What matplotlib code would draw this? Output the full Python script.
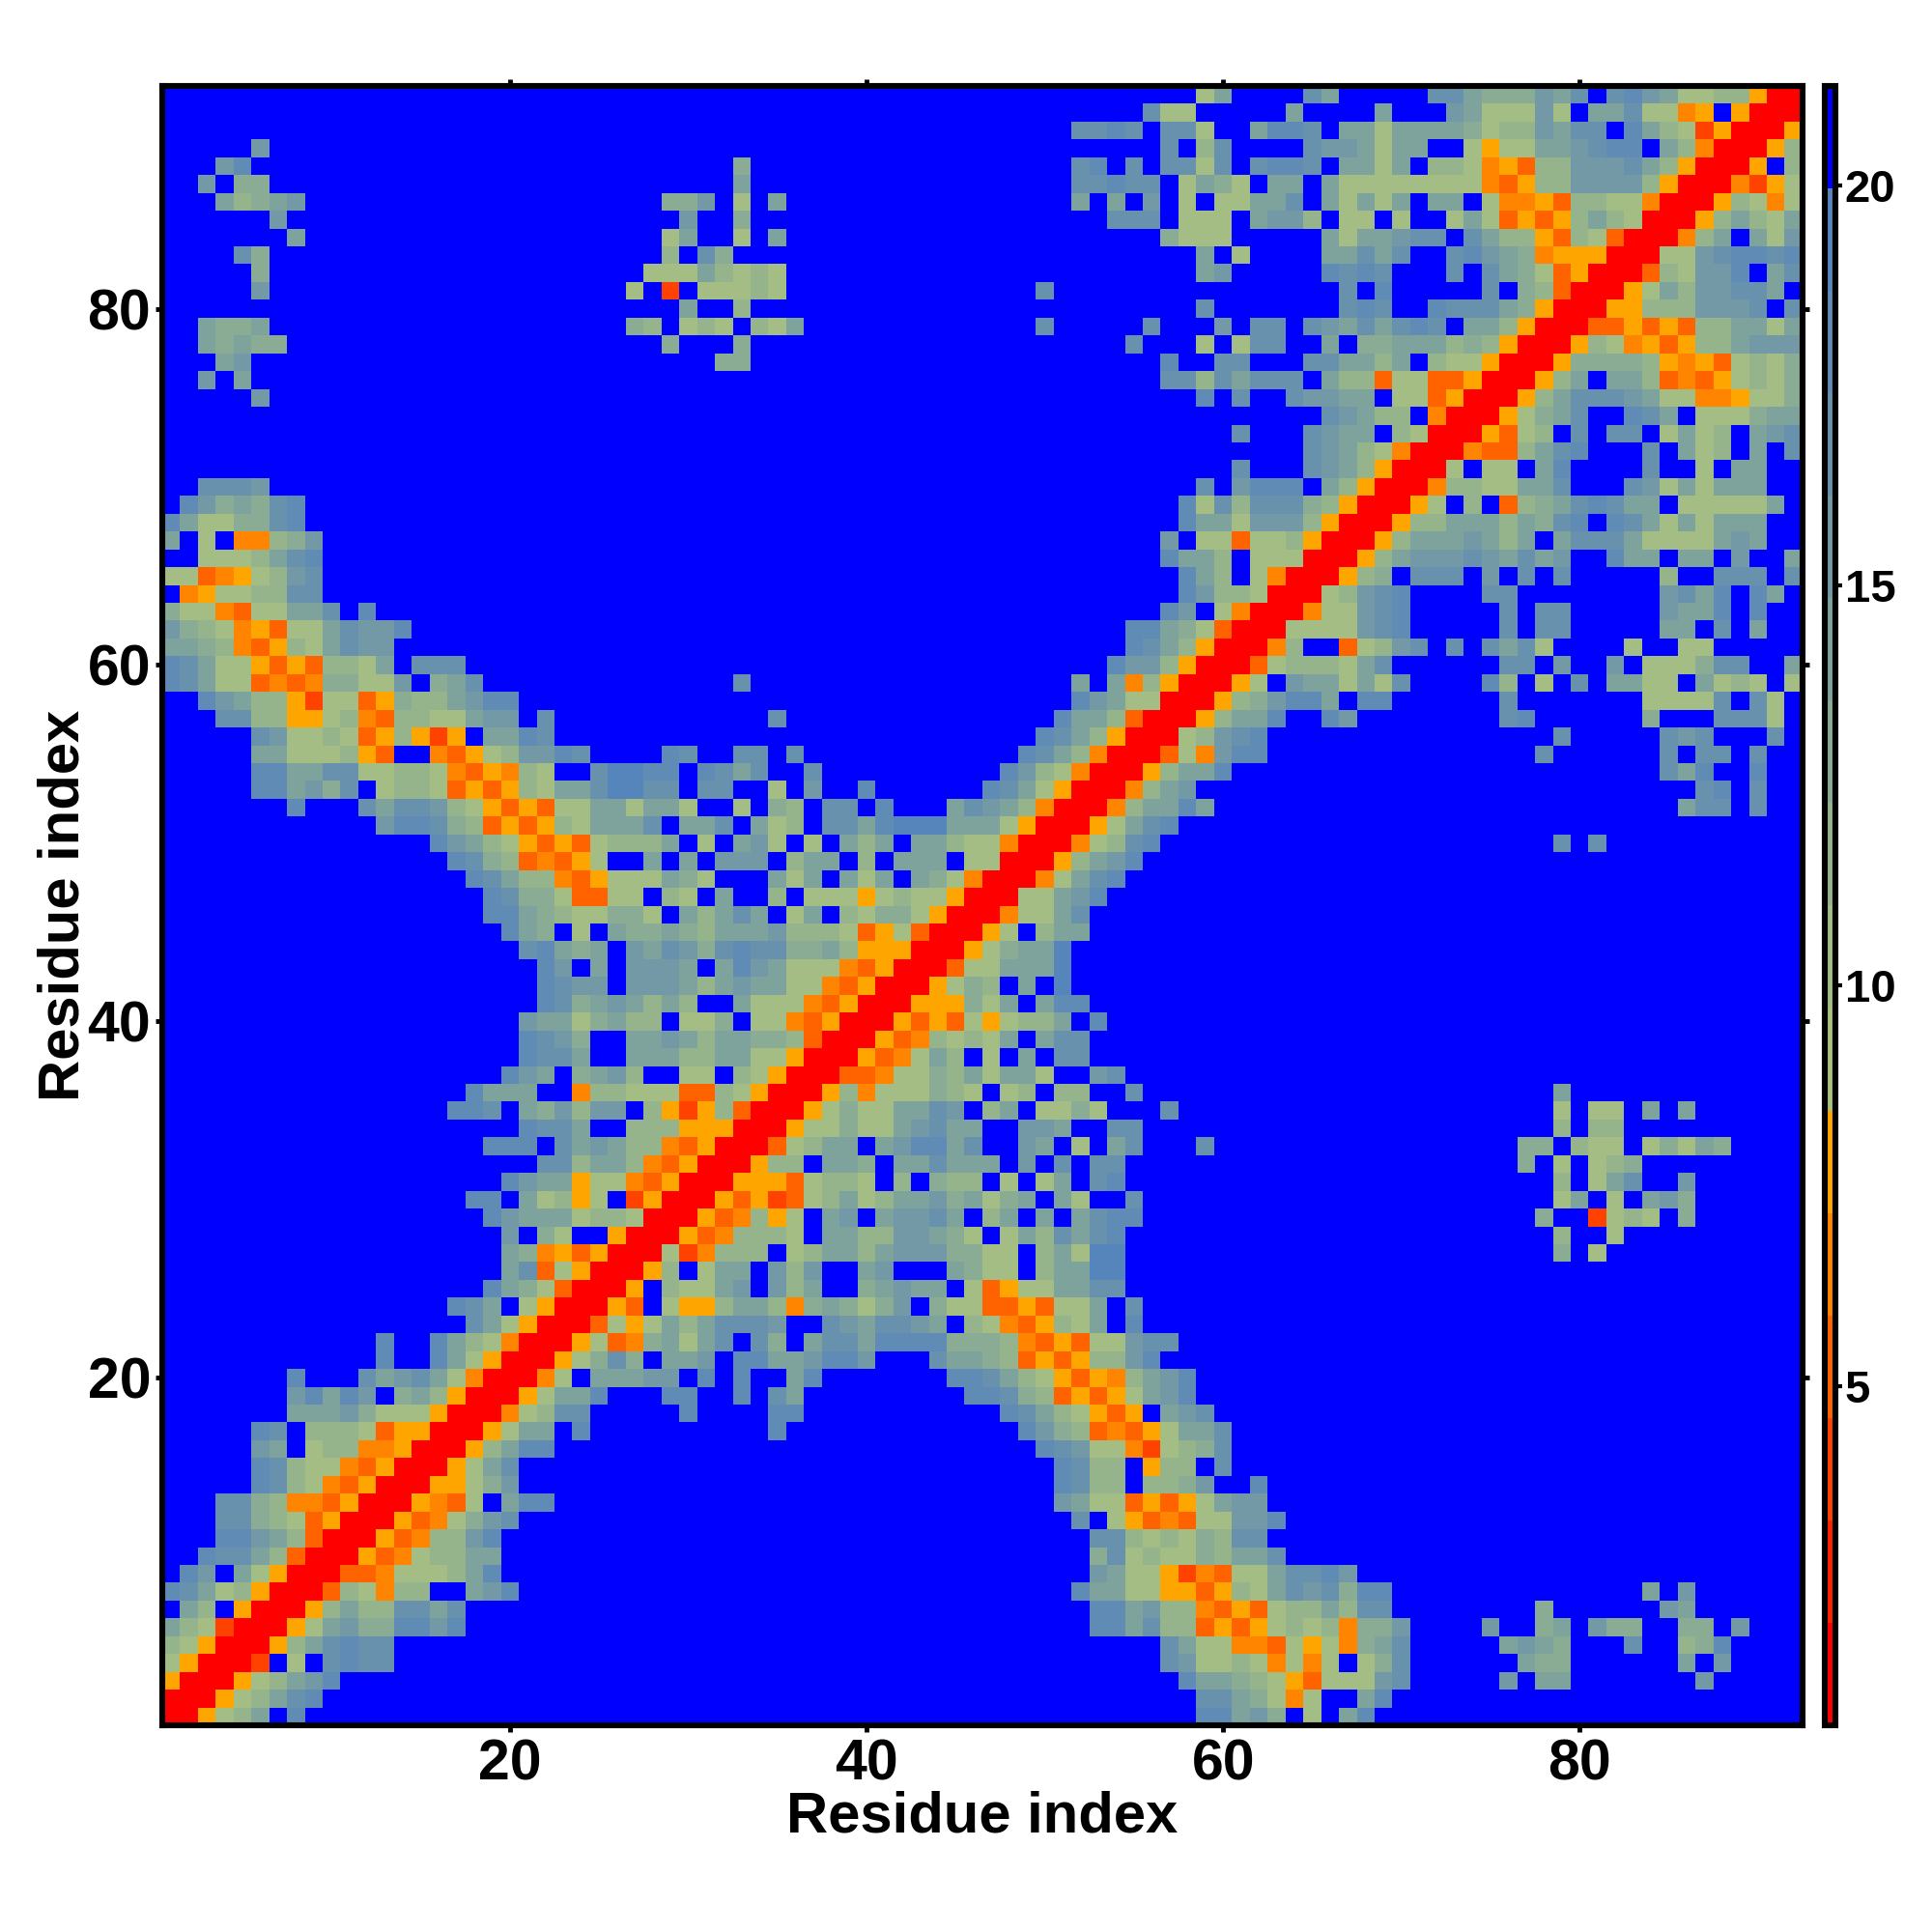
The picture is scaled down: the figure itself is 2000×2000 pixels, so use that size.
"""
Residue contact map (upper-left triangle read off, mirrored across the diagonal).
"""

import numpy as np
import matplotlib
matplotlib.use("Agg")
import matplotlib.pyplot as plt
from matplotlib.colors import BoundaryNorm, ListedColormap

plt.rcParams["font.family"] = ["Liberation Sans", "DejaVu Sans"]
plt.rcParams["font.weight"] = "bold"

N_RES = 92
level_colors = [
    "#FF0000", "#FF2100", "#FF4200", "#FF6300", "#FF8400", "#FFA500",
    "#AAC27C", "#A3BD84", "#96B48C", "#8AAC95", "#7EA39D",
    "#7399A6", "#6891AE", "#5F8BB5", "#5685BC", "#0000FF",
]
level_edges = [0.76, 2.04, 3.32, 4.6, 5.88, 7.16, 8.44, 9.72, 11.0,
               12.28, 13.56, 14.84, 16.12, 17.4, 18.68, 19.96, 21.24]
axis_ticks = [20, 40, 60, 80]
cbar_ticks = [5, 10, 15, 20]

# row -> "startcol:levels", one hex digit per cell, '.' or a gap is level f (far)
contact_rows = {
    1: "1:0", 2: "1:00", 3: "1:500", 4: "1:7500", 5: "1:87500", 6: "1:a87200",
    7: "2:a8.500", 8: "1:dca78500", 9: "2:db.a7500", 10: "3:dcca8300",
    11: "4:ddba8300", 12: "4:cc9873500", 13: "4:cc98443500", 14: "6:dc8743500",
    15: "6:dc87743500", 16: "6:ba.78844500", 17: "6:dc.888735500",
    18: "8:aaab9777500", 19: "8:bdadb.9a8500", 20: "8:d 12:cabca7400",
    21: "13:d 16:da7500", 22: "13:d 16:da87400", 23: "18:ca7500",
    24: "17:dca.7500", 25: "19:da97300", 26: "20:ac37500", 27: "20:a9453500",
    28: "20:b.97..500", 29: "19:dbaaa788700", 30: "18:dd.a7857.2500",
    31: "20:dbaa57743500", 32: "22:cc8aa843500", 33: "19:ddd.caba8843500",
    34: "21:dcca..88855500", 35: "17:ddc.a9b8bb.85258300",
    36: "18:daaa..4887773387500", 37: "20:dba.9ab8..77.87500",
    38: "21:dcca..aaa88aa77500", 39: "21:dcb9..aaba8aa998300",
    40: "21:baa79a88.779.7743500", 41: "22:dc9aba8a8..a77743500",
    42: "22:dcbb.bbba8abaa7743500", 43: "22:db.a.bbba.adba77743500",
    44: "21:cda9a.bacb9cdcc99a855500", 45: "20:da9.7.a99a98aaab8887357300",
    46: "19:dda9877997.a8aca.7a.87997500", 47: "19:dc9973377.87.a..8.77757877500",
    48: "18:dca88435777a97...a7a.a7a.a97400",
    49: "17:dc9834357..a.a.bbb.8aa.8.aaa.7700",
    50: "16:dba8753537888a.7.ab7.7.a8a.aa877400",
    51: "13:bddc98353587aaac.aac.a78.ccadeeeaaa7500",
    52: "8:d 12:caccb87535377aa7aa7..7.98.cc.d...acba8400",
    53: "6:ddab9c.7887353587aaceecc.cc..7.b..d 47:dca7500",
    54: "6:ddaacc77887435487..ceedd.dcac..c 48:db87400",
    55: "6:aa777853..43578bbdc 29:dc 33:cc.c 49:dca8400",
    56: "6:cb7787358525.aadc 50:dca8500",
    57: "4:cc885578438877abb.c 35:c 51:daa8300",
    58: "3:dba88527735988abdd 52:dba7700",
    59: "1:dca7734349977b.9ac 33:c 52:a.a48500",
    60: "1:dca775353887a.ccc 54:dbb8500",
    61: "1:aa9843587acbb 55:dca8500",
    62: "1:b98745377acbbd 55:dda97300",
    63: "1:9774377aac.d 57:db.7400",
    64: "2:457788cc 58:db88700",
    65: "1:7734578bc 58:da8.7400",
    66: "3:7778acd 57:daa8.77700",
    67: "1:a.7.4489b 57:b.773778500",
    68: "1:da7799cd 58:daa7bbb8500",
    69: "2:db9a9cd 58:d7c8ccc98500",
    70: "3:cccb 59:c.bddd.a8500",
    71: "61:c...cba8500",
    72: "65:cba87400",
    73: "61:c...cbaa.8700",
    74: "66:cba88.400",
    75: "6:b 59:d.c 64:cbbaa.773500",
    76: "3:b.a 57:cc8caccc.a8837733500",
    77: "4:ab 32:99 57:d..cc...ccaa8a.877500",
    78: "3:a9a99 29:9 33:9 55:c...7.7cc..a.99aaa898500",
    79: "3:a99a 27:98.787.87a 50:c 56:c...b.cc.cbacacdc.aa8500",
    80: "30:a..8 59:c 67:cdc..dccca9500",
    81: "6:b 27:7.2.77787 50:c 67:c.d.....c.98300",
    82: "6:9 28:777a8787 59:ab 66:dcdc...c.ca973500",
    83: "5:c9 29:8.c9 59:a.7 66:aacac..cdba9455500",
    84: "8:a 29:7a..7.a 57:9777 66:a7aabcc.ca885387300",
    85: "7:b 30:b..9 54:ccc.777.abb8.77.7..7a735358a8700",
    86: "4:a89ab 29:99b.7.a 52:a.a.b.7.77aac.a7a7a.aa.744538877400",
    87: "3:b.99 33:a 52:ccdcc.7a97.aa.a7777777743588bbbb8500",
    88: "4:bd 33:9 52:cd.c.cc7c.cddc.aa7a.88745388bbbca8500",
    89: "6:b 57:c.8c....cbba7aa..7577aabcdd.a8400",
    90: "52:ccdc.cc7..addc.aa7aaaa9788bacc.da872500",
    91: "56:c77 64:a 69:a 73:ba777b7.aac7745.500",
    92: "59:7a 65:ca 72:cca999bac.cdba7788500",
}

edges = np.array(level_edges)
mids = (edges[:-1] + edges[1:]) / 2

heat = np.full((N_RES, N_RES), mids[15])
for row, spec in contact_rows.items():
    for seg in spec.split():
        start, cells = seg.split(":")
        for k, ch in enumerate(cells):
            if ch != ".":
                col = int(start) + k
                heat[row - 1, col - 1] = mids[int(ch, 16)]
                heat[col - 1, row - 1] = mids[int(ch, 16)]

cmap = ListedColormap(level_colors)
norm = BoundaryNorm(level_edges, cmap.N)

fig = plt.figure(figsize=(20, 20), dpi=100)
ax = fig.add_axes([168 / 2000, 214 / 2000, 1698 / 2000, 1697 / 2000])
im = ax.imshow(heat, origin="lower", extent=(0.5, N_RES + 0.5, 0.5, N_RES + 0.5),
               cmap=cmap, norm=norm, interpolation="nearest", aspect="auto")
ax.set_xticks(axis_ticks)
ax.set_yticks(axis_ticks)
ax.tick_params(axis="both", which="major", length=5, width=3.5, labelsize=42.5,
               top=True, right=True, pad=5)
ax.tick_params(axis="y", pad=3.5)
ax.set_xlabel("Residue index", fontsize=43, fontweight="bold", labelpad=-1)
ax.set_ylabel("Residue index", fontsize=43, fontweight="bold", labelpad=-2)
for spine in ax.spines.values():
    spine.set_linewidth(4.4)

cax = fig.add_axes([1888.5 / 2000, 214 / 2000, 11.5 / 2000, 1697 / 2000])
cb = fig.colorbar(im, cax=cax, boundaries=level_edges, spacing="proportional",
                  ticks=cbar_ticks)
cb.outline.set_linewidth(4.4)
cax.tick_params(length=5, width=3, labelsize=34, pad=2)
cax.minorticks_off()

plt.savefig("out.png", dpi=100)
plt.close(fig)
